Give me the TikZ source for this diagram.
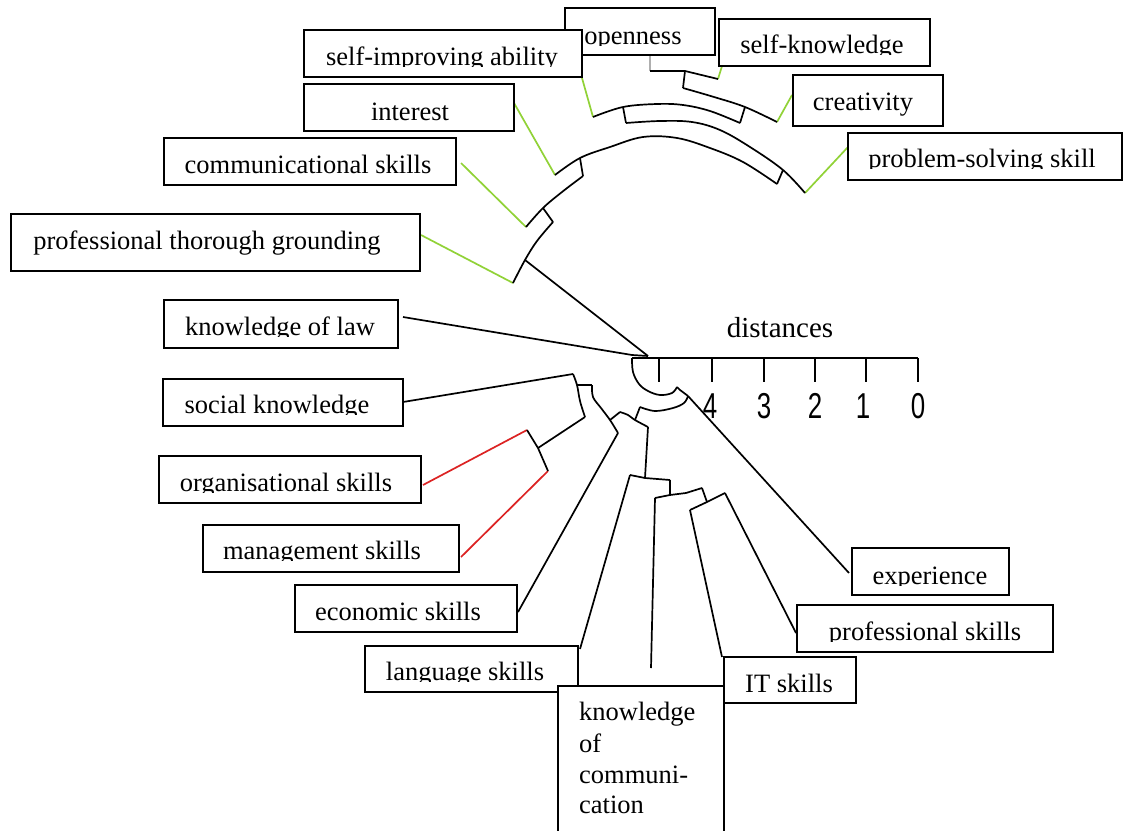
\documentclass[tikz,border=0pt]{standalone}
\usepackage{fontspec}
\setmainfont{Liberation Serif}
\newfontfamily\axfont{Liberation Sans}
\definecolor{leafgreen}{RGB}{145,210,55}
\definecolor{leafgray}{RGB}{175,175,175}
\definecolor{leafred}{RGB}{220,35,35}
\newcommand\tbx[9]{%
  \node[tbox, minimum width={(#4-#2)*1pt}, minimum height={(#5-#3)*1pt}] (#1) at (#2,#3) {};
  \begin{scope}
    \clip (#2,#3) rectangle (#4,#8);
    \node[lbl] at (#6,#7) {#9};
  \end{scope}}
\newcommand\axdigit[1]{\scalebox{0.72}[1]{#1}}
\begin{document}
\begin{tikzpicture}[x=1pt,y=-1pt,
  tbox/.style={draw=black, line width=2pt, fill=white, inner sep=0pt, outer sep=0pt, anchor=north west},
  lbl/.style={inner sep=0pt, anchor=base, font=\fontsize{26.5}{31}\selectfont},
  tree/.style={line width=1.7pt, black, line join=round},
  leafg/.style={line width=1.7pt, leafgreen},
  leafgr/.style={line width=1.7pt, leafgray},
  leafr/.style={line width=1.7pt, leafred},
  tick/.style={line width=1.7pt, black},
  axnum/.style={inner sep=0pt, anchor=base, font=\axfont\fontsize{36}{36}\selectfont},
  arc/.style={tree, smooth, tension=0.6}]
\useasboundingbox (0,0) rectangle (1124,830);
\fill[white] (0,0) rectangle (1124,830);

% ---------- tree joints (upper cluster) ----------
\coordinate (opE) at (650,56);
\coordinate (n1a) at (650,71);
\coordinate (n1m) at (685,71);
\coordinate (n1b) at (718,79);
\coordinate (skE) at (722,66);
\coordinate (n2a) at (683,88);
\coordinate (n2m) at (745,107);
\coordinate (crL) at (777,122);
\coordinate (crE) at (792,95);
\coordinate (n3b) at (740,123);
\coordinate (siL) at (593,117);
\coordinate (siE) at (582,78);
\coordinate (n3m) at (623,107);
\coordinate (n4a) at (626,123);
\coordinate (n4m) at (783,170);
\coordinate (psL) at (805,193);
\coordinate (psE) at (848,147);
\coordinate (n5b) at (777,184);
\coordinate (inL) at (555,175);
\coordinate (inE) at (514,103);
\coordinate (n5m) at (580,158);
\coordinate (n6b) at (583,176);
\coordinate (n6m) at (543,208);
\coordinate (cmL) at (526,227);
\coordinate (cmE) at (461,163);
\coordinate (n7b) at (553,222);
\coordinate (n7m) at (525,260);
\coordinate (ptL) at (513,283);
\coordinate (ptE) at (421,235);
\coordinate (rootA) at (648,356);
\coordinate (lawL) at (632,355);
\coordinate (lawE) at (403,317);
% ---------- axis and root ----------
\coordinate (ax0) at (632,358);
\coordinate (axE) at (918,358);
\coordinate (rtb) at (677,387);
\coordinate (m5b) at (688,396);
\coordinate (expE) at (849,573);
\coordinate (m5a) at (640,407);
% ---------- lower cluster ----------
\coordinate (socE) at (403,402);
\coordinate (socL) at (573,374);
\coordinate (m2m) at (577,385);
\coordinate (m2b) at (585,417);
\coordinate (m1m) at (538,448);
\coordinate (orL) at (527,430);
\coordinate (orE) at (423,485);
\coordinate (mgL) at (548,471);
\coordinate (mgE) at (461,557);
\coordinate (m3a) at (592,385);
\coordinate (m3m) at (610,420);
\coordinate (ecL) at (618,433);
\coordinate (ecE) at (518,612);
\coordinate (m4a) at (620,412);
\coordinate (m4m) at (635,420);
\coordinate (m4b) at (648,427);
\coordinate (p3m) at (645,478);
\coordinate (laL) at (630,475);
\coordinate (laE) at (580,649);
\coordinate (p3b) at (670,480);
\coordinate (p2m) at (670,495);
\coordinate (koL) at (655,498);
\coordinate (koE) at (651,668);
\coordinate (p2b) at (702,488);
\coordinate (p1m) at (707,502);
\coordinate (itL) at (690,510);
\coordinate (itE) at (722,657);
\coordinate (prL) at (725,493);
\coordinate (prE) at (796,633);

% ---------- leaves ----------
\draw[leafgr] (opE) -- (n1a);
\draw[leafg] (skE) -- (n1b);
\draw[leafg] (crE) -- (crL);
\draw[leafg] (siE) -- (siL);
\draw[leafg] (psE) -- (psL);
\draw[leafg] (inE) -- (inL);
\draw[leafg] (cmE) -- (cmL);
\draw[leafg] (ptE) -- (ptL);
\draw[leafr] (orE) -- (orL);
\draw[leafr] (mgE) -- (mgL);
\draw[tree] (lawE) -- (lawL) -- (rootA);
\draw[tree] (socE) -- (socL);
\draw[tree] (ecL) -- (ecE);
\draw[tree] (laE) -- (laL);
\draw[tree] (koL) -- (koE);
\draw[tree] (itL) -- (itE);
\draw[tree] (prL) -- (prE);
\draw[tree] (m5b) -- (expE);

% ---------- upper cluster ----------
\draw[tree] (n1a) -- (n1m) -- (n1b);
\draw[tree] (n1m) -- (n2a);
\draw[arc] plot coordinates {(n2a) (714,97) (n2m) (crL)};
\draw[tree] (n2m) -- (n3b);
\draw[arc] plot coordinates {(siL) (n3m) (657,104) (683,105) (710,111) (n3b)};
\draw[tree] (n3m) -- (n4a);
\draw[arc] plot coordinates {(n4a) (660,121) (692,122) (720,130) (750,147) (n4m) (psL)};
\draw[tree] (n4m) -- (n5b);
\draw[arc] plot coordinates {(n5b) (743,162) (710,148) (677,138) (643,137) (610,147) (n5m) (inL)};
\draw[tree] (n5m) -- (n6b);
\draw[arc] plot coordinates {(n6b) (562,192) (n6m) (cmL)};
\draw[tree] (n6m) -- (n7b);
\draw[arc] plot coordinates {(n7b) (537,241) (n7m) (ptL)};
\draw[tree] (n7m) -- (rootA);

% ---------- root ----------
\draw[arc] plot coordinates {(ax0) (633,372) (639,384) (648,391) (660,395) (672,393) (rtb)};
\draw[tree] (rtb) -- (680,390) -- (m5b);
\draw[arc] plot coordinates {(m5b) (684,403) (673,408) (655,411) (m5a)};
\draw[tree] (m5a) -- (m4m);

% ---------- lower cluster ----------
\draw[arc] plot coordinates {(m4a) (628,415) (m4m) (m4b)};
\draw[tree] (m3m) -- (m4a);
\draw[tree] (m4b) -- (p3m);
\draw[arc] plot coordinates {(m3a) (593,397) (601,408) (m3m) (ecL)};
\draw[tree] (m2m) -- (m3a);
\draw[arc] plot coordinates {(socL) (m2m) (580,401) (m2b)};
\draw[tree] (m2b) -- (m1m);
\draw[tree] (orL) -- (m1m) -- (mgL);
\draw[tree] (laL) -- (p3m) -- (p3b);
\draw[tree] (p3b) -- (p2m);
\draw[tree] (koL) -- (p2m) -- (686,493) -- (p2b);
\draw[tree] (p2b) -- (p1m);
\draw[tree] (itL) -- (p1m) -- (prL);

% ---------- distance axis ----------
\draw[tick] (ax0) -- (axE);
\foreach \tx in {659,712,764,815,866,918} \draw[tick] (\tx,358) -- (\tx,382);
\node[lbl, font=\fontsize{29}{34}\selectfont] (dist) at (780,337) {distances};
\node[axnum] (d4) at (710,418) {\axdigit{4}};
\node[axnum] (d3) at (764,418) {\axdigit{3}};
\node[axnum] (d2) at (815,418) {\axdigit{2}};
\node[axnum] (d1) at (863,418) {\axdigit{1}};
\node[axnum] (d0) at (918,418) {\axdigit{0}};

% ---------- label boxes ----------
\tbx{openness}{565}{8}{715}{55}{633}{44}{45}{openness}
\tbx{selfimp}{304}{30}{582}{77}{442}{65}{66}{self-improving ability}
\tbx{selfknow}{719}{19}{930}{66}{822}{53}{54}{self-knowledge}
\tbx{creativity}{793}{75}{943}{126}{863}{110}{126}{creativity}
\tbx{interest}{304}{84}{514}{131}{410}{120}{131}{interest}
\tbx{probsolv}{848}{133}{1122}{180}{982}{167}{168}{problem-solving skill}
\tbx{communic}{164}{138}{456}{185}{308}{173}{185}{communicational skills}
\tbx{profthor}{11}{214}{420}{271}{207}{249}{271}{professional thorough grounding}
\tbx{law}{164}{300}{398}{348}{280}{335}{336}{knowledge of law}
\tbx{social}{163}{379}{403}{426}{277}{413}{414}{social knowledge}
\tbx{organis}{159}{456}{421}{503}{286}{491}{492}{organisational skills}
\tbx{manage}{203}{525}{459}{572}{322}{559}{560}{management skills}
\tbx{economic}{295}{585}{517}{632}{398}{620}{632}{economic skills}
\tbx{language}{365}{646}{578}{692}{465}{680}{681}{language skills}
\node[tbox, minimum width=166pt, minimum height=160pt] (komm) at (558,686) {};
\node[lbl, anchor=base west] (komm1) at (579,720) {knowledge};
\node[lbl, anchor=base west] (komm2) at (579,752) {of};
\node[lbl, anchor=base west] (komm3) at (579,783) {communi-};
\node[lbl, anchor=base west] (komm4) at (579,813) {cation};
\tbx{itskills}{724}{657}{856}{703}{789}{692}{703}{IT skills}
\tbx{profskills}{797}{605}{1053}{652}{925}{640}{641}{professional skills}
\tbx{experience}{852}{548}{1009}{595}{930}{584}{585}{experience}
\end{tikzpicture}
\end{document}
